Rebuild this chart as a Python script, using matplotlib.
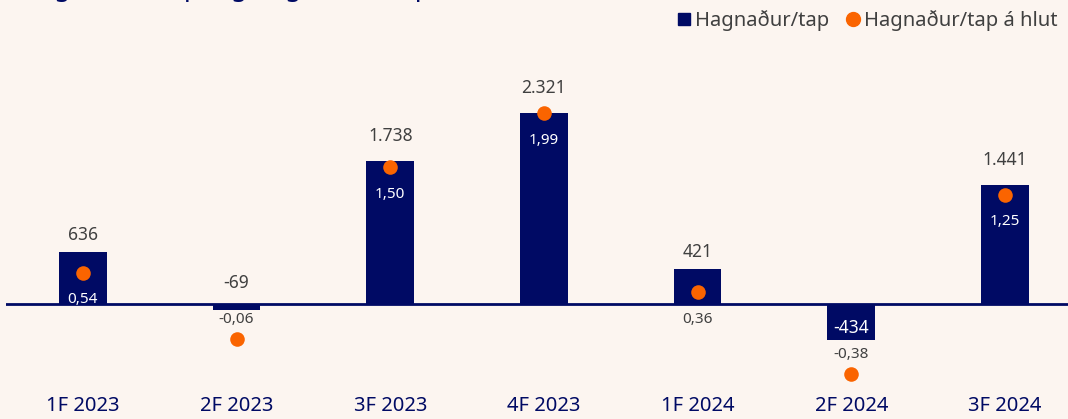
import numpy as np
import matplotlib.pyplot as plt

plt.rcParams['font.family'] = ['Noto Sans', 'DejaVu Sans']

# data
quarters = ['1F 2023', '2F 2023', '3F 2023', '4F 2023', '1F 2024', '2F 2024', '3F 2024']
profit = [636, -69, 1738, 2321, 421, -434, 1441]          # Hagnaður/tap (m.kr.)
eps = [0.54, -0.06, 1.50, 1.99, 0.36, -0.38, 1.25]        # Hagnaður/tap á hlut (kr.)

navy = '#000A64'
orange = '#FA6400'
grey = '#404040'
bg = '#FCF5F0'

fig = plt.figure(figsize=(10.68, 4.19), dpi=100, facecolor=bg)
ax = fig.add_axes([6 / 1068, 34 / 419, 1062 / 1068, 325 / 419])
ax.set_facecolor('none')
ax2 = ax.twinx()

x = np.arange(len(quarters))
ax.bar(x, profit, width=0.31, color=navy, zorder=2)
ax.axhline(0, color=navy, lw=2, zorder=3)
ax2.scatter(x, eps, s=110, color=orange, zorder=4, linewidths=0)

ax.set_xlim(-0.5, 6.41)
ax.set_ylim(-984, 2965)
ax2.set_ylim(-0.482, 2.473)

for a in (ax, ax2):
    for s in a.spines.values():
        s.set_visible(False)
    a.set_yticks([])
ax.set_xticks(x)
ax.set_xticklabels(quarters, fontsize=14.5, color=navy)
ax.tick_params(axis='x', length=0, pad=8)


def fmt_int(v):
    return f'{v:,}'.replace(',', '.')


def fmt_dec(v):
    return f'{v:.2f}'.replace('.', ',')


# convert data values to pixel heights to place labels
fig.canvas.draw()
to_px = lambda a, v: a.transData.transform((0, v))[1]

for i, (p, e) in enumerate(zip(profit, eps)):
    top_px = to_px(ax, p)
    dot_px = to_px(ax2, e)
    if p > 0:
        off = 25 if abs(dot_px - top_px) < 12 else 17
        ax.annotate(fmt_int(p), (i, p), xytext=(0, off * 0.72), textcoords='offset points',
                    ha='center', va='center', fontsize=12.5, color=grey)
    elif abs(p) < 200:
        ax.annotate(fmt_int(p), (i, 0), xytext=(0, 21 * 0.72), textcoords='offset points',
                    ha='center', va='center', fontsize=12.5, color=grey)
    else:
        ax.annotate(fmt_int(p), (i, p), xytext=(0, 12 * 0.72), textcoords='offset points',
                    ha='center', va='center', fontsize=12.5, color='white')
    inside = abs(p) > 500 and e > 0
    dy = -27 if e > 0 else 19
    ax2.annotate(fmt_dec(e), (i, e), xytext=(0, dy * 0.72), textcoords='offset points',
                 ha='center', va='center', fontsize=11,
                 color='white' if inside else grey)

# legend
h1 = plt.Line2D([], [], marker='s', ls='', color=navy, markersize=9)
h2 = plt.Line2D([], [], marker='o', ls='', color=orange, markersize=10)
fig.legend([h1, h2], ['Hagnaður/tap', 'Hagnaður/tap á hlut'], loc='upper right',
           bbox_to_anchor=(1.0, 1.0), ncol=2, frameon=False, fontsize=14.5,
           handlelength=0.6, handletextpad=0.25, columnspacing=0.9, labelcolor=grey,
           borderaxespad=0.1)

# title, cut off at the top of the image (only descenders show)
fig.text(20 / 1068, 1 + 5 / 419, 'Hagnaður (tap) og hagnaður (tap) á hlut', fontsize=19,
         fontweight='bold', color=navy, ha='left', va='baseline')

fig.savefig('out.png', dpi=100, facecolor=bg)
